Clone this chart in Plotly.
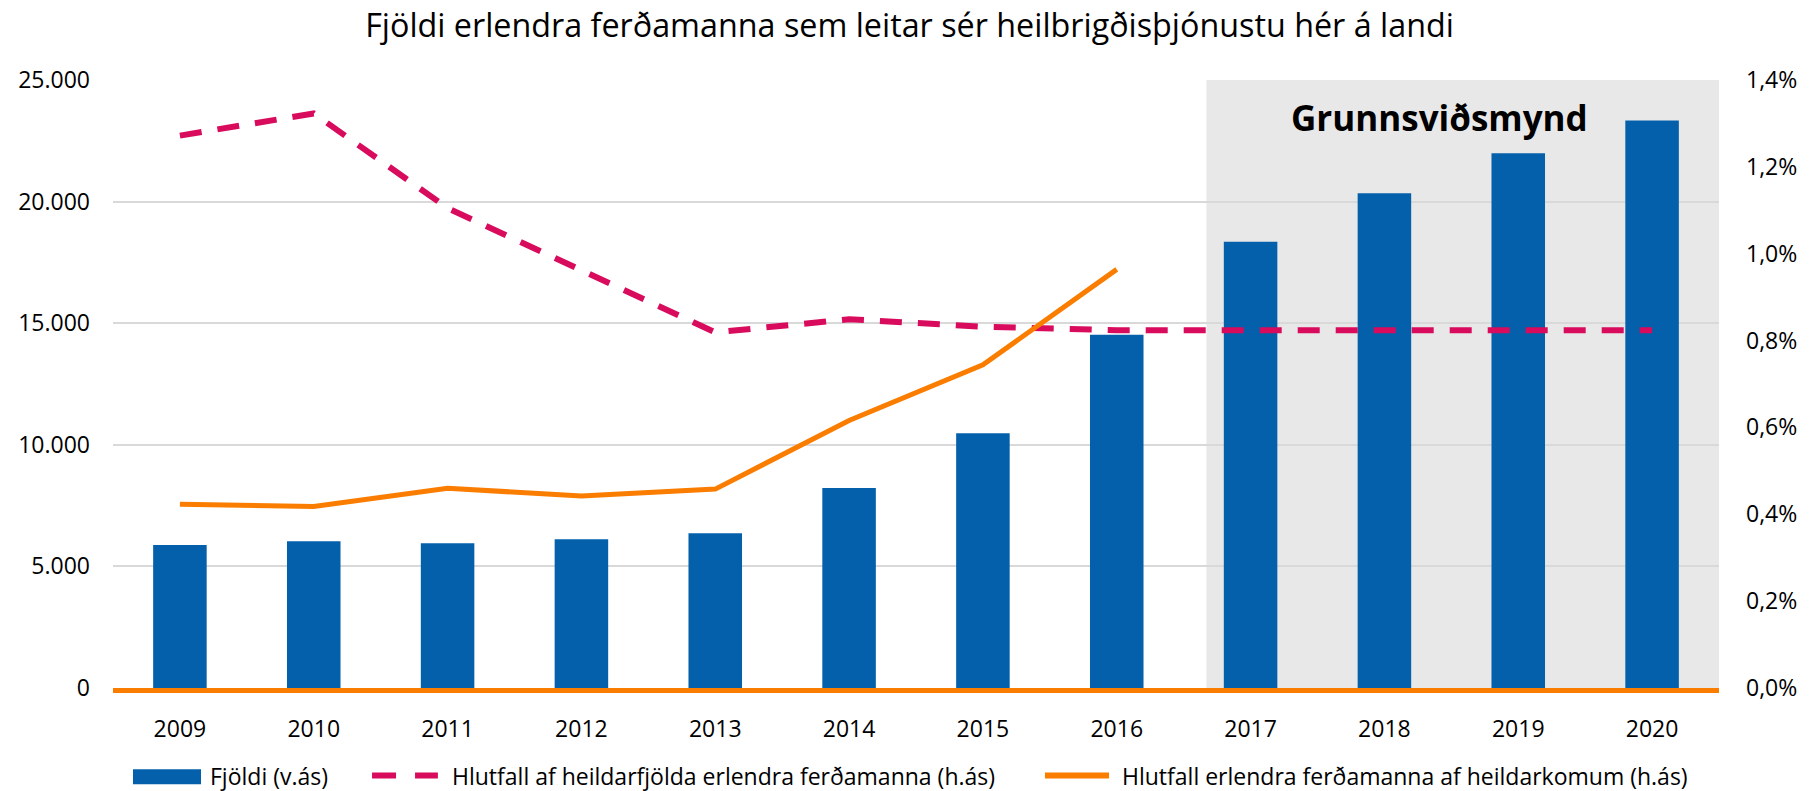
import plotly.graph_objects as go

years = ["2009", "2010", "2011", "2012", "2013", "2014", "2015", "2016", "2017", "2018", "2019", "2020"]
fjoldi = [5880, 6030, 5950, 6120, 6360, 8220, 10470, 14530, 18350, 20340, 21990, 23330]
hlutfall_heild = [0.01272, 0.01323, 0.01105, 0.00961, 0.00819, 0.00849, 0.00832, 0.00824,
                  0.00824, 0.00824, 0.00824, 0.00824]
hlutfall_komur = [0.00423, 0.00418, 0.00460, 0.00442, 0.00458, 0.00616, 0.00744, 0.00964]
komur_years = years[:8]

title_text = "Fjöldi erlendra ferðamanna sem leitar sér heilbrigðisþjónustu hér á landi"
scenario_label = "Grunnsviðsmynd"
name_bar = "Fjöldi (v.ás)"
name_dash = "Hlutfall af heildarfjölda erlendra ferðamanna (h.ás)"
name_orange = "Hlutfall erlendra ferðamanna af heildarkomum (h.ás)"

BLUE = "#0560ac"
PINK = "#d80b5c"
ORANGE = "#fa7d00"
FONT = "Open Sans"

fig = go.Figure()
fig.add_trace(go.Bar(x=years, y=fjoldi, name=name_bar, marker=dict(color=BLUE, line=dict(width=0)),
                     width=0.4, yaxis="y", showlegend=False))
fig.add_trace(go.Scatter(x=years, y=hlutfall_heild, name=name_dash, mode="lines",
                         line=dict(color=PINK, width=6, dash="22px,16px"), yaxis="y2",
                         showlegend=False))
fig.add_trace(go.Scatter(x=komur_years, y=hlutfall_komur, name=name_orange, mode="lines",
                         line=dict(color=ORANGE, width=5), yaxis="y2", showlegend=False))

# shaded scenario region
fig.add_shape(type="rect", xref="x", yref="y", x0=7.67, x1=11.5, y0=0, y1=25000,
              fillcolor="#e8e8e8", line=dict(width=0), layer="below")
fig.add_annotation(text="<b>" + scenario_label + "</b>", xref="paper", yref="paper",
                   x=0.826, y=0.939, showarrow=False, xanchor="center", yanchor="middle",
                   font=dict(family=FONT, size=35, color="black"))

# legend (drawn below the plot)
LY = -0.144
fig.add_shape(type="rect", xref="paper", yref="paper", x0=0.01245, x1=0.0548,
              y0=-0.1582, y1=-0.1335, fillcolor=BLUE, line=dict(width=0))
fig.add_shape(type="line", xref="paper", yref="paper", x0=0.1613, x1=0.2023, y0=LY, y1=LY,
              line=dict(color=PINK, width=6, dash="24px,19px"))
fig.add_shape(type="line", xref="paper", yref="paper", x0=0.5803, x1=0.6202, y0=LY, y1=LY,
              line=dict(color=ORANGE, width=6))
for txt, xp in [(name_bar, 0.0592), (name_dash, 0.2098), (name_orange, 0.6270)]:
    fig.add_annotation(text=txt, xref="paper", yref="paper", x=xp, y=LY, showarrow=False,
                       xanchor="left", yanchor="middle",
                       font=dict(family=FONT, size=23, color="black"))

fig.update_layout(
    width=1819, height=791,
    margin=dict(l=113, r=100, t=80, b=103, autoexpand=False),
    paper_bgcolor="white", plot_bgcolor="white",
    separators=",.",
    font=dict(family=FONT, size=23, color="black"),
    title=dict(text=title_text, x=0.5, xanchor="center", y=0.968, yanchor="middle",
               yref="container", font=dict(family=FONT, size=32.3, color="black")),
    showlegend=False,
    xaxis=dict(type="category", range=[-0.5, 11.5], showgrid=False, showline=True,
               linecolor=ORANGE, linewidth=5, ticks="", tickfont=dict(size=23),
               ticklabelstandoff=16),
    yaxis=dict(range=[0, 25000], dtick=5000, tickformat=",.0f", showgrid=True,
               gridcolor="#d9d9d9", gridwidth=2, zeroline=False, showline=False,
               tickfont=dict(size=23), ticklabelstandoff=22),
    yaxis2=dict(range=[0, 0.014], dtick=0.002, tickformat=".1%", overlaying="y", side="right",
                showgrid=False, zeroline=False, showline=False, tickfont=dict(size=23),
                ticklabelstandoff=26),
)

fig.write_html("out.html", config={"displayModeBar": False},
               post_script="document.body.style.margin='0';document.body.style.overflow='hidden';")
